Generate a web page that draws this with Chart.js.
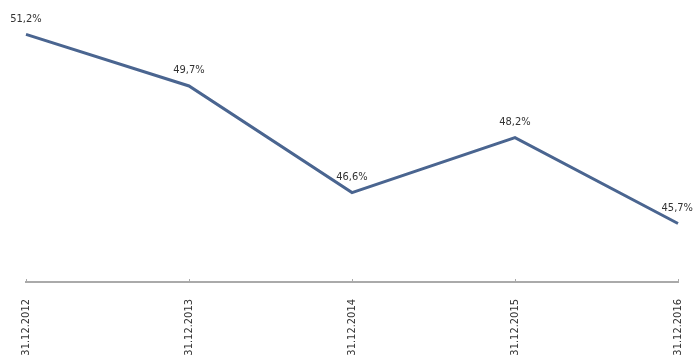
<!DOCTYPE html>
<html>
<head>
<meta charset="utf-8">
<script src="https://cdn.jsdelivr.net/npm/chart.js@4/dist/chart.umd.min.js"></script>
<style>
  html, body { margin: 0; padding: 0; background: #fff; }
  #wrap { width: 693px; height: 355px; }
</style>
</head>
<body>
<div id="wrap"><canvas id="canvas"></canvas></div>
<script>
var labels = ['31.12.2012', '31.12.2013', '31.12.2014', '31.12.2015', '31.12.2016'];
var share = [51.2, 49.7, 46.6, 48.2, 45.7];

var fontFamily = '"DejaVu Sans Condensed", sans-serif';

// value labels above each point, comma as decimal separator
var valueLabels = {
  id: 'valueLabels',
  afterDatasetsDraw: function(chart) {
    var ctx = chart.ctx;
    var meta = chart.getDatasetMeta(0);
    ctx.save();
    ctx.font = '11px ' + fontFamily;
    ctx.fillStyle = '#333';
    ctx.textAlign = 'center';
    ctx.textBaseline = 'bottom';
    meta.data.forEach(function(pt, i) {
      var txt = share[i].toFixed(1).replace('.', ',') + '%';
      var x = pt.x;
      var w = ctx.measureText(txt).width;
      if (x - w / 2 < 9) x = w / 2 + 9;
      if (x + w / 2 > chart.width) x = chart.width - w / 2;
      ctx.fillText(txt, x, pt.y - 10);
    });
    ctx.restore();
  }
};

// small tick marks pointing up from the axis line
var upTicks = {
  id: 'upTicks',
  afterDraw: function(chart) {
    var ctx = chart.ctx;
    var sx = chart.scales.x;
    var y = chart.chartArea.bottom;
    ctx.save();
    ctx.strokeStyle = '#aaa';
    ctx.lineWidth = 1;
    sx.ticks.forEach(function(t, i) {
      var x = Math.round(sx.getPixelForTick(i)) + 0.5;
      ctx.beginPath();
      ctx.moveTo(x, y);
      ctx.lineTo(x, y - 3);
      ctx.stroke();
    });
    ctx.restore();
  }
};

var ctx = document.getElementById('canvas').getContext('2d');
var chart = new Chart(ctx, {
  type: 'line',
  data: {
    labels: labels,
    datasets: [{
      data: share,
      borderColor: '#4a6590',
      borderWidth: 3,
      pointRadius: 0,
      tension: 0,
      fill: false
    }]
  },
  options: {
    responsive: true,
    maintainAspectRatio: false,
    animation: false,
    layout: { padding: { left: 26, right: 0, top: 0, bottom: 0 } },
    plugins: {
      legend: { display: false },
      tooltip: { enabled: false }
    },
    scales: {
      x: {
        offset: false,
        grid: { display: false },
        border: { display: true, color: '#aaa', width: 2 },
        afterFit: function(scale) {
          scale.height = 73;
          scale.paddingLeft = 0;
          scale.paddingRight = 15;
        },
        ticks: {
          minRotation: 90,
          maxRotation: 90,
          padding: 9,
          color: '#333',
          font: { family: fontFamily, size: 11 }
        }
      },
      y: {
        display: false,
        min: 44,
        max: 52.2
      }
    }
  },
  plugins: [valueLabels, upTicks]
});
</script>
</body>
</html>
